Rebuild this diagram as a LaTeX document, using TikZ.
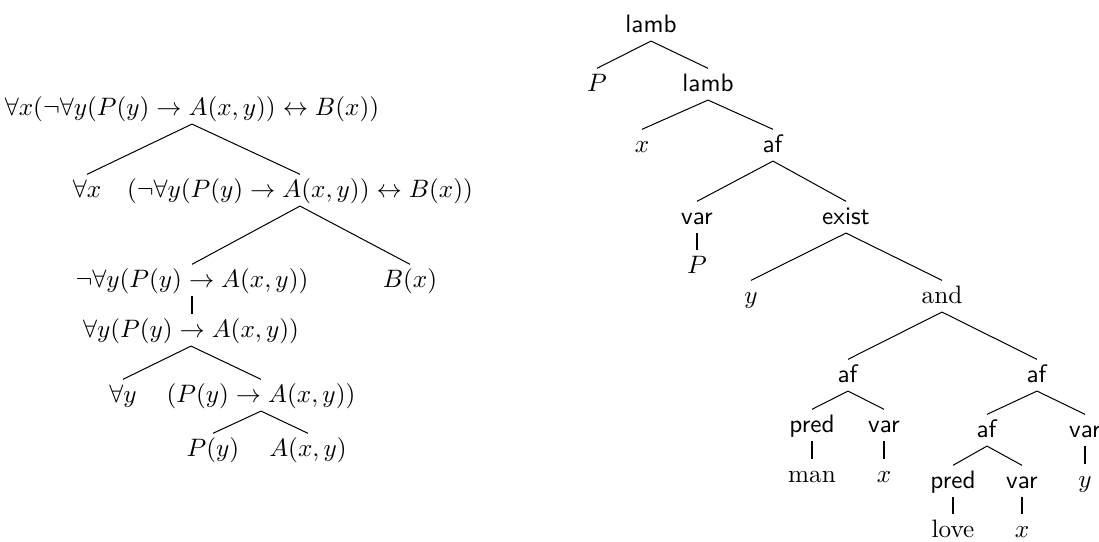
\documentclass[tikz,border=0pt]{standalone}
\begin{document}
\begin{tikzpicture}[x=0.3968pt,y=-0.3968pt,
  tn/.style={anchor=base,inner xsep=0pt,inner ysep=1.8pt,text height=7pt,text depth=1.6pt},
  br/.style={line width=0.4pt},
  vt/.style={line width=0.75pt}]
\useasboundingbox (0,0) rectangle (1099,541);
% ---------- left tree ----------
\node[tn] (L0) at (192,115) {$\forall x(\neg\forall y(P(y)\rightarrow A(x,y))\leftrightarrow B(x))$};
\node[tn] (L1a) at (87,197) {$\forall x$};
\node[tn] (L1b) at (300,197) {$(\neg\forall y(P(y)\rightarrow A(x,y))\leftrightarrow B(x))$};
\node[tn] (L2a) at (192,287) {$\neg\forall y(P(y)\rightarrow A(x,y))$};
\node[tn] (L2b) at (410,287) {$B(x)$};
\node[tn] (L3) at (191,337) {$\forall y(P(y)\rightarrow A(x,y))$};
\node[tn] (L4a) at (123,402) {$\forall y$};
\node[tn] (L4b) at (261,402) {$(P(y)\rightarrow A(x,y))$};
\node[tn] (L5a) at (213,456) {$P(y)$};
\node[tn] (L5b) at (308,456) {$A(x,y)$};
\draw[br] (L1a.north) -- (L0.south) -- (L1b.north);
\draw[br] (L2a.north) -- (L1b.south) -- (L2b.north);
\draw[vt] (L2a.south) -- (L2a.south |- L3.north);
\draw[br] (L4a.north) -- (L3.south) -- (L4b.north);
\draw[br] (L5a.north) -- (L4b.south) -- (L5b.north);
% ---------- right tree ----------
\node[tn] (R0) at (651,32) {\textsf{lamb}};
\node[tn] (R1a) at (597,91) {$P$};
\node[tn] (R1b) at (708,91) {\textsf{lamb}};
\node[tn] (R2a) at (642,152) {$x$};
\node[tn] (R2b) at (773,152) {\textsf{af}};
\node[tn] (R3a) at (697,224) {\textsf{var}};
\node[tn] (R3b) at (846,224) {\textsf{exist}};
\node[tn] (R4a) at (697,273) {$P$};
\node[tn] (R4b) at (751,303) {$y$};
\node[tn] (R5) at (942,303) {and};
\node[tn] (R6a) at (848,382) {\textsf{af}};
\node[tn] (R6b) at (1037,382) {\textsf{af}};
\node[tn] (R7a) at (812,432) {\textsf{pred}};
\node[tn] (R7b) at (884,432) {\textsf{var}};
\node[tn] (R8a) at (812,482) {man};
\node[tn] (R8b) at (884,482) {$x$};
\node[tn] (R7c) at (987,437) {\textsf{af}};
\node[tn] (R7d) at (1085,437) {\textsf{var}};
\node[tn] (R8d) at (1085,487) {$y$};
\node[tn] (R9a) at (953,488) {\textsf{pred}};
\node[tn] (R9b) at (1022,488) {\textsf{var}};
\node[tn] (R10a) at (953,537) {love};
\node[tn] (R10b) at (1022,537) {$x$};
\draw[br] (R1a.north) -- (R0.south) -- (R1b.north);
\draw[br] (R2a.north) -- (R1b.south) -- (R2b.north);
\draw[br] (R3a.north) -- (R2b.south) -- (R3b.north);
\draw[vt] (R3a.south) -- (R4a.north);
\draw[br] (R4b.north) -- (R3b.south) -- (R5.north);
\draw[br] (R6a.north) -- (R5.south) -- (R6b.north);
\draw[br] (R7a.north) -- (R6a.south) -- (R7b.north);
\draw[vt] (R7a.south) -- (R8a.north);
\draw[vt] (R7b.south) -- (R8b.north);
\draw[br] (R7c.north) -- (R6b.south) -- (R7d.north);
\draw[vt] (R7d.south) -- (R8d.north);
\draw[br] (R9a.north) -- (R7c.south) -- (R9b.north);
\draw[vt] (R9a.south) -- (R10a.north);
\draw[vt] (R9b.south) -- (R10b.north);
\end{tikzpicture}
\end{document}
